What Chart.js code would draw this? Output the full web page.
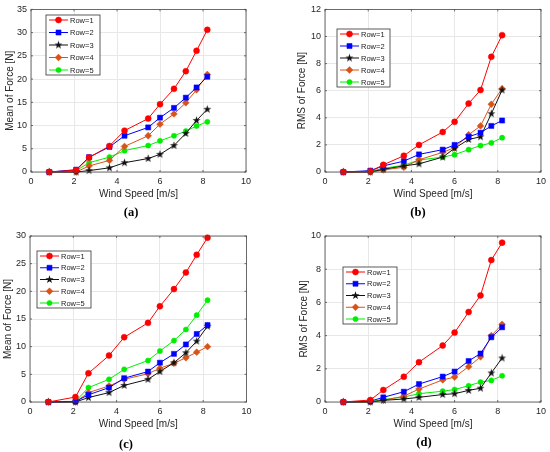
<!DOCTYPE html>
<html>
<head>
<meta charset="utf-8">
<script src="https://cdn.jsdelivr.net/npm/chart.js@4.4.1/dist/chart.umd.min.js"></script>
<style>
  html, body { margin: 0; padding: 0; background: #fff; }
  #wrap { position: relative; width: 550px; height: 452px; overflow: hidden; }
  canvas { position: absolute; }
</style>
</head>
<body>
<div id="wrap">
  <canvas id="chartA" width="275" height="226" style="left:0;top:0"></canvas>
  <canvas id="chartB" width="275" height="226" style="left:275px;top:0"></canvas>
  <canvas id="chartC" width="275" height="226" style="left:0;top:226px"></canvas>
  <canvas id="chartD" width="275" height="226" style="left:275px;top:226px"></canvas>
</div>
<script>
// wind speed [m/s] shared by every series
const windSpeed = [0.85, 2.1, 2.7, 3.65, 4.35, 5.45, 6.0, 6.65, 7.2, 7.7, 8.2];
const rowNames = ['Row=1', 'Row=2', 'Row=3', 'Row=4', 'Row=5'];
const xTicks = [0, 2, 4, 6, 8, 10];

// (a) mean of force
const meanA1 = [0, 0.4, 3.1, 5.6, 8.9, 11.5, 14.6, 17.9, 21.7, 26.1, 30.6];
const meanA2 = [0, 0.5, 3.2, 5.4, 7.8, 9.6, 11.7, 13.8, 16.0, 18.2, 20.5];
const meanA3 = [0, 0, 0.3, 0.9, 2.0, 2.9, 3.8, 5.7, 8.3, 11.1, 13.5];
const meanA4 = [0, 0, 1.3, 2.5, 5.5, 7.8, 10.3, 12.5, 14.9, 17.7, 21.0];
const meanA5 = [0, 0.3, 2.0, 3.2, 4.6, 5.7, 6.7, 7.8, 8.8, 9.9, 10.8];
const ticksA = [0, 5, 10, 15, 20, 25, 30, 35];

// (b) rms of force
const rmsB1 = [0, 0.05, 0.53, 1.2, 2.0, 2.95, 3.7, 5.05, 6.05, 8.5, 10.1];
const rmsB2 = [0, 0.1, 0.45, 0.8, 1.3, 1.65, 2.0, 2.6, 2.9, 3.4, 3.8];
const rmsB3 = [0, 0, 0.2, 0.45, 0.6, 1.1, 1.75, 2.4, 2.6, 4.3, 6.05];
const rmsB4 = [0, 0, 0.15, 0.35, 0.9, 1.45, 1.8, 2.75, 3.4, 5.0, 6.15];
const rmsB5 = [0, 0.05, 0.27, 0.5, 0.88, 1.1, 1.28, 1.65, 1.95, 2.15, 2.53];
const ticksB = [0, 2, 4, 6, 8, 10, 12];

// (c) mean of force
const meanC1 = [0, 0.9, 5.2, 8.4, 11.7, 14.3, 17.3, 20.4, 23.4, 26.6, 29.7];
const meanC2 = [0, 0.1, 1.3, 2.6, 4.3, 5.5, 7.1, 8.7, 10.4, 12.3, 13.9];
const meanC3 = [0, 0, 0.8, 1.7, 3.0, 4.1, 5.5, 7.1, 8.9, 11.0, 13.7];
const meanC4 = [0, 0, 1.7, 2.9, 4.1, 5.1, 6.1, 7.0, 8.0, 9.0, 10.0];
const meanC5 = [0, 0.1, 2.6, 4.1, 5.9, 7.5, 9.2, 11.1, 13.1, 15.7, 18.4];
const ticksC = [0, 5, 10, 15, 20, 25, 30];

// (d) rms of force
const rmsD1 = [0, 0.12, 0.72, 1.52, 2.4, 3.4, 4.18, 5.42, 6.42, 8.55, 9.6];
const rmsD2 = [0, 0.05, 0.28, 0.62, 1.08, 1.53, 1.83, 2.47, 2.92, 3.9, 4.5];
const rmsD3 = [0, 0, 0.1, 0.18, 0.28, 0.45, 0.5, 0.7, 0.83, 1.75, 2.65];
const rmsD4 = [0, 0, 0.1, 0.35, 0.78, 1.33, 1.5, 2.13, 2.72, 4.0, 4.68];
const rmsD5 = [0, 0.02, 0.15, 0.3, 0.5, 0.65, 0.75, 0.98, 1.2, 1.3, 1.58];
const ticksD = [0, 2, 4, 6, 8, 10];

const FONT = '"Liberation Sans", Arial, sans-serif';

// little marker images, matlab-ish
function starImg(color, r) {
    let c = document.createElement('canvas');
    let s = Math.ceil(r * 2 + 2);
    c.width = s; c.height = s;
    let g = c.getContext('2d');
    g.beginPath();
    for (let i = 0; i < 10; i++) {
        let rr = i % 2 === 0 ? r : r * 0.4;
        let a = -Math.PI / 2 + i * Math.PI / 5;
        let px = s / 2 + rr * Math.cos(a), py = s / 2 + rr * Math.sin(a);
        if (i === 0) g.moveTo(px, py); else g.lineTo(px, py);
    }
    g.closePath();
    g.fillStyle = color;
    g.fill();
    return c;
}
const starMarker = starImg('#111111', 4.2);

const colors = ['#ff0000', '#0000ff', '#111111', '#d95319', '#00ee00'];
const styles = ['circle', 'rect', starMarker, 'rectRot', 'circle'];
const radii = [3, 3.6, 4, 3.4, 2.6];

function makeSets(series) {
    return series.map((vals, i) => ({
        label: rowNames[i],
        data: vals.map((v, k) => ({ x: windSpeed[k], y: v })),
        borderColor: colors[i],
        backgroundColor: colors[i],
        pointBackgroundColor: colors[i],
        pointBorderColor: colors[i],
        pointStyle: styles[i],
        pointRadius: radii[i],
        pointBorderWidth: 0.5,
        borderWidth: 1,
        tension: 0,
        clip: false
    }));
}

function drawMarker(ctx, ds, x, y) {
    let h = Chart.helpers;
    ctx.save();
    ctx.fillStyle = ds.pointBackgroundColor;
    ctx.strokeStyle = ds.pointBorderColor;
    ctx.lineWidth = 0.5;
    if (h && h.drawPoint) {
        h.drawPoint(ctx, { pointStyle: ds.pointStyle, radius: ds.pointRadius, borderWidth: 0.5, rotation: 0 }, x, y);
    } else {
        ctx.beginPath();
        ctx.arc(x, y, ds.pointRadius, 0, Math.PI * 2);
        ctx.fill();
    }
    ctx.restore();
}

function panel(id, series, yTicks, yTitle, cfg) {
    let yMax = yTicks[yTicks.length - 1];
    let yAxisW = 31, xAxisH = 28;
    let a = cfg.area;
    let c = document.getElementById(id);
    let W = c.width, H = c.height;
    let boxPlugin = {
        id: 'box' + id,
        afterDraw(chart) {
            let ctx = chart.ctx, ca = chart.chartArea;
            ctx.save();
            ctx.strokeStyle = '#4a4a4a';
            ctx.lineWidth = 0.8;
            ctx.strokeRect(ca.left, ca.top, ca.right - ca.left, ca.bottom - ca.top);
            // small inward ticks like matlab
            ctx.beginPath();
            chart.scales.x.ticks.forEach(t => {
                let px = chart.scales.x.getPixelForValue(t.value);
                ctx.moveTo(px, ca.bottom); ctx.lineTo(px, ca.bottom - 2);
                ctx.moveTo(px, ca.top); ctx.lineTo(px, ca.top + 2);
            });
            chart.scales.y.ticks.forEach(t => {
                let py = chart.scales.y.getPixelForValue(t.value);
                ctx.moveTo(ca.left, py); ctx.lineTo(ca.left + 2, py);
                ctx.moveTo(ca.right, py); ctx.lineTo(ca.right - 2, py);
            });
            ctx.stroke();
            // legend box
            let L = cfg.legend;
            ctx.fillStyle = '#ffffff';
            ctx.fillRect(L.x, L.y, L.w, L.h);
            ctx.strokeStyle = '#333333';
            ctx.lineWidth = 0.8;
            ctx.strokeRect(L.x, L.y, L.w, L.h);
            let step = (L.h - 10) / 4;
            ctx.font = '7.5px ' + FONT;
            ctx.textBaseline = 'middle';
            chart.data.datasets.forEach((ds, i) => {
                let yy = L.y + 5 + i * step;
                ctx.strokeStyle = ds.borderColor;
                ctx.lineWidth = 1;
                ctx.beginPath();
                ctx.moveTo(L.x + 3, yy);
                ctx.lineTo(L.x + 22, yy);
                ctx.stroke();
                drawMarker(ctx, ds, L.x + 12.5, yy);
                ctx.fillStyle = '#1a1a1a';
                ctx.textAlign = 'left';
                ctx.fillText(ds.label, L.x + 24, yy + 0.5);
            });
            // panel letter
            ctx.fillStyle = '#000';
            ctx.font = 'bold 12.5px "Liberation Serif", "Times New Roman", serif';
            ctx.textAlign = 'center';
            ctx.textBaseline = 'middle';
            ctx.fillText(cfg.letter, cfg.letterPos[0], cfg.letterPos[1]);
            ctx.restore();
        }
    };
    return new Chart(c.getContext('2d'), {
        type: 'line',
        data: { datasets: makeSets(series) },
        options: {
            responsive: false,
            animation: false,
            layout: {
                padding: { left: a.l - yAxisW, top: a.t, right: W - a.r, bottom: H - a.b - xAxisH }
            },
            scales: {
                x: {
                    type: 'linear',
                    min: 0, max: 10,
                    afterFit: (s) => { s.height = xAxisH; },
                    afterBuildTicks: (s) => { s.ticks = xTicks.map(v => ({ value: v })); },
                    grid: { color: '#e8e8e8', drawTicks: false },
                    border: { display: false },
                    ticks: { color: '#262626', font: { size: 9, family: FONT }, padding: 4 },
                    title: {
                        display: true, text: 'Wind Speed [m/s]', color: '#262626',
                        font: { size: 10, family: FONT }, padding: { top: 0, bottom: 0 }
                    }
                },
                y: {
                    type: 'linear',
                    min: 0, max: yMax,
                    afterFit: (s) => { s.width = yAxisW; },
                    afterBuildTicks: (s) => { s.ticks = yTicks.map(v => ({ value: v })); },
                    grid: { color: '#e8e8e8', drawTicks: false },
                    border: { display: false },
                    ticks: { color: '#262626', font: { size: 9, family: FONT }, padding: 4 },
                    title: {
                        display: true, text: yTitle, color: '#262626',
                        font: { size: 10, family: FONT },
                        padding: { top: cfg.yTitleX - (a.l - yAxisW) - 6, bottom: 0 }
                    }
                }
            },
            plugins: {
                legend: { display: false },
                tooltip: { enabled: false }
            }
        },
        plugins: [boxPlugin]
    });
}

panel('chartA', [meanA1, meanA2, meanA3, meanA4, meanA5], ticksA, 'Mean of Force [N]', {
    area: { l: 31, t: 8, r: 246, b: 172 },
    yTitleX: 10,
    legend: { x: 46, y: 15, w: 54, h: 60 },
    letter: '(a)', letterPos: [131, 213]
});
panel('chartB', [rmsB1, rmsB2, rmsB3, rmsB4, rmsB5], ticksB, 'RMS of Force [N]', {
    area: { l: 50, t: 7, r: 266.5, b: 172 },
    yTitleX: 27,
    legend: { x: 62, y: 29, w: 53, h: 58 },
    letter: '(b)', letterPos: [143, 213]
});
panel('chartC', [meanC1, meanC2, meanC3, meanC4, meanC5], ticksC, 'Mean of Force [N]', {
    area: { l: 30, t: 10, r: 246.5, b: 176 },
    yTitleX: 8,
    legend: { x: 37, y: 25, w: 54, h: 57 },
    letter: '(c)', letterPos: [126, 219]
});
panel('chartD', [rmsD1, rmsD2, rmsD3, rmsD4, rmsD5], ticksD, 'RMS of Force [N]', {
    area: { l: 50, t: 10, r: 266, b: 176 },
    yTitleX: 29,
    legend: { x: 68, y: 41, w: 54, h: 57 },
    letter: '(d)', letterPos: [149, 217]
});
</script>
</body>
</html>
